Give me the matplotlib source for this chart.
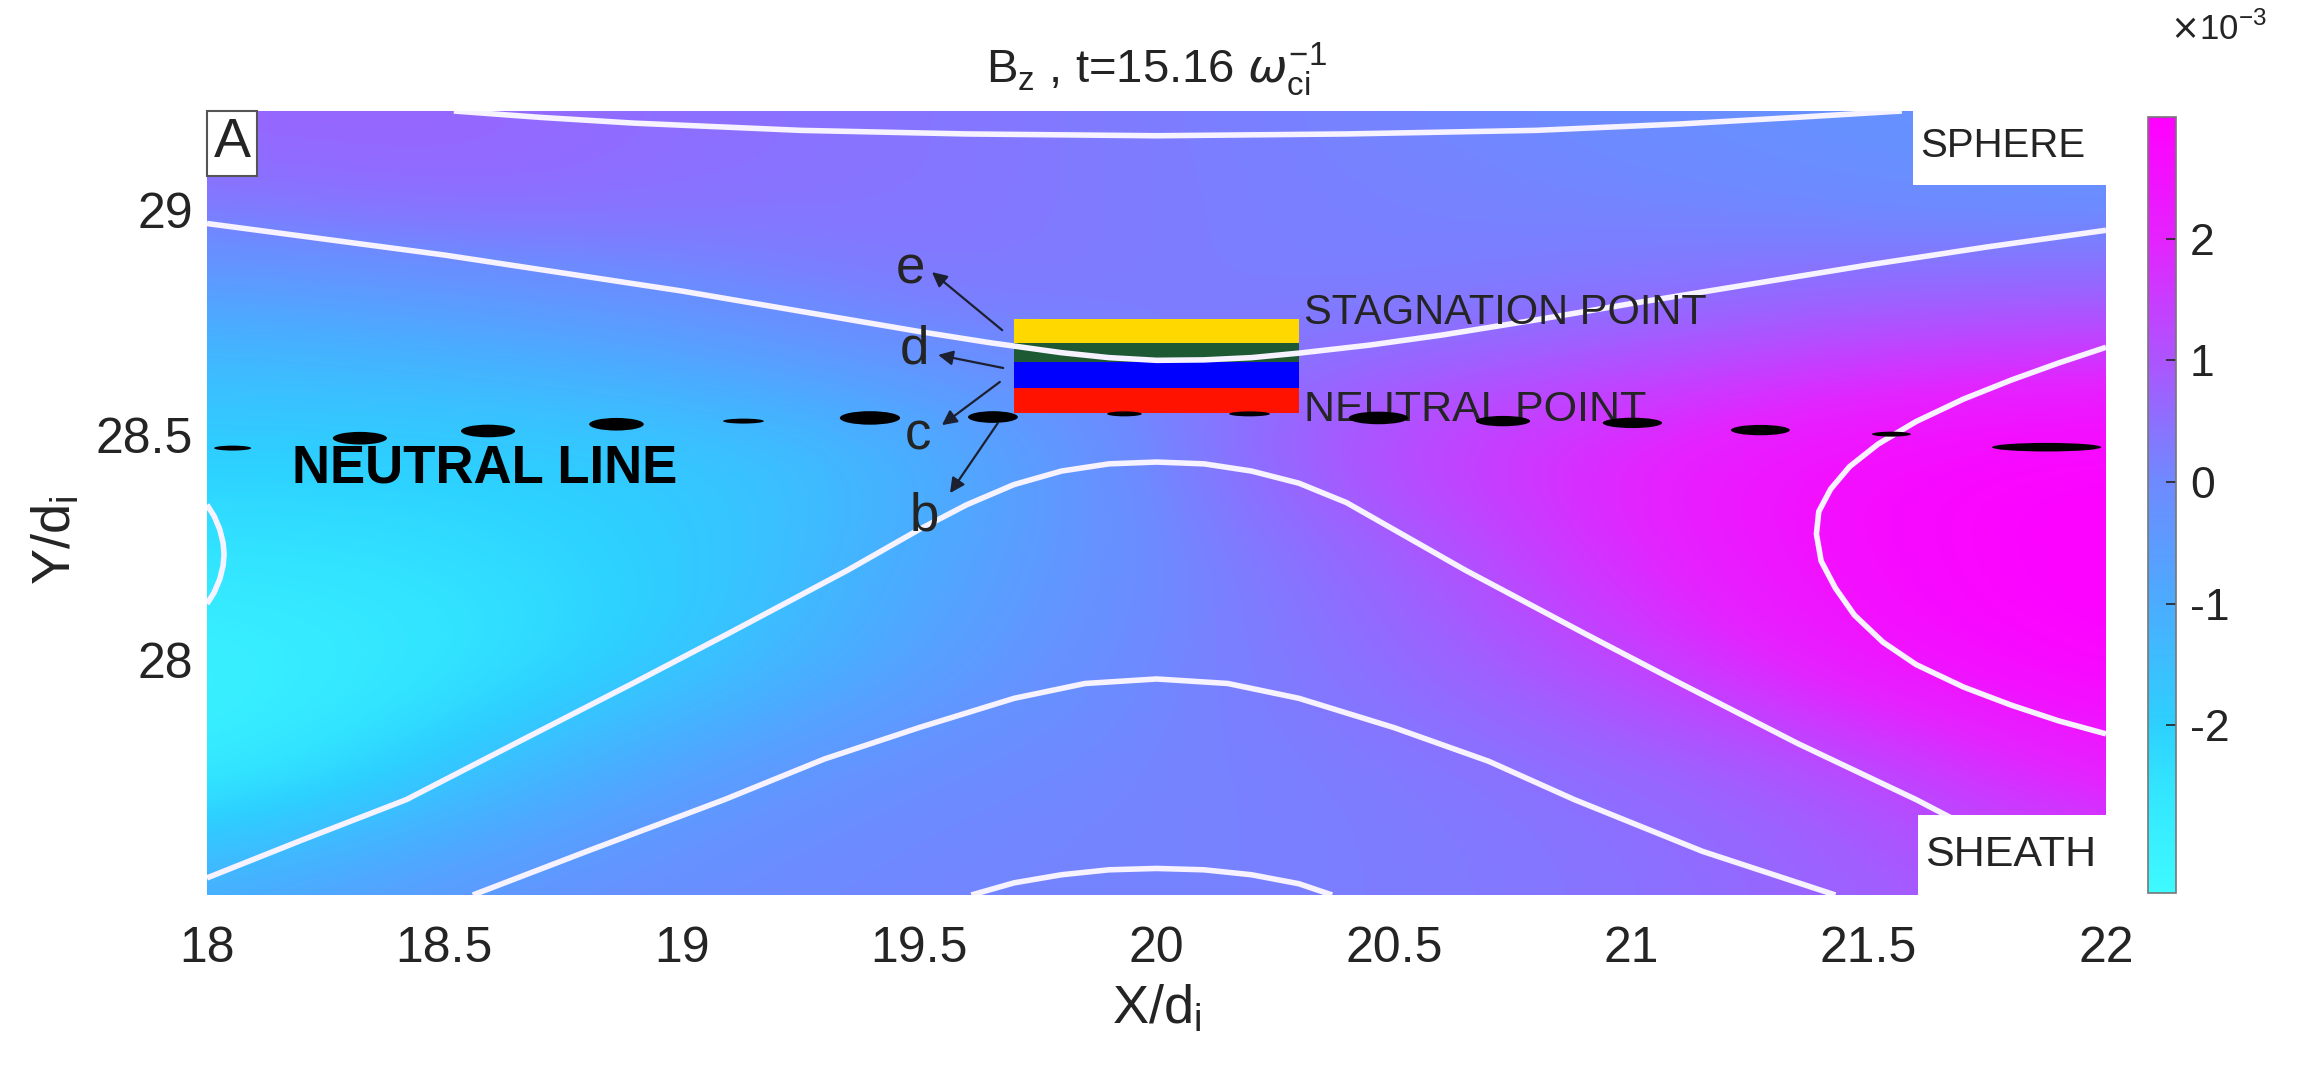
import numpy as np
import matplotlib
matplotlib.use("Agg")
import matplotlib.pyplot as plt
from matplotlib.colors import LinearSegmentedColormap, Normalize
from matplotlib.patches import Ellipse, Rectangle

plt.rcParams["font.family"] = ["Liberation Sans", "DejaVu Sans"]
plt.rcParams["axes.unicode_minus"] = False

# ---- Bz field (x1e-3) sampled on a coarse grid ----
grid_x = [18.0, 18.5, 19.0, 19.5, 20.0, 20.5, 21.0, 21.5, 22.0]
grid_y = [27.5, 27.75, 28.0, 28.25, 28.5, 28.75, 29.0, 29.25]
bz = [
    [-1.00, -0.35, -0.05, 0.10, 0.10, 0.25, 0.40, 0.75, 1.10],
    [-3.00, -1.80, -0.55, 0.00, 0.10, 0.25, 0.50, 1.00, 2.30],
    [-3.15, -2.70, -1.95, -0.70, 0.08, 0.50, 1.35, 2.60, 2.95],
    [-2.45, -2.35, -1.95, -1.00, 0.00, 0.67, 2.00, 2.75, 2.95],
    [-1.90, -1.90, -1.80, -1.30, 0.10, 1.50, 2.05, 2.70, 2.95],
    [-1.15, -0.85, -0.35, 0.33, 0.25, 0.17, 0.50, 0.90, 1.05],
    [0.40, 0.67, 0.50, 0.40, 0.25, 0.17, 0.08, -0.10, -0.20],
    [0.70, 0.67, 0.50, 0.40, 0.25, 0.08, -0.10, -0.25, -0.35],
]
VMIN, VMAX = -3.38, 3.0

# colour scale anchors: value -> rgb
cmap_vals = [-3.38, -2.5, -2.0, -1.0, 0.0, 1.0, 2.0, 3.0]
cmap_rgb = [(62, 250, 255), (50, 228, 255), (45, 208, 255), (75, 172, 255),
            (110, 138, 255), (172, 85, 255), (228, 35, 255), (255, 0, 255)]

# ---- field lines ----
top_x = [18.52, 18.70, 18.90, 19.25, 19.60, 20.00, 20.40, 20.80, 21.10, 21.35, 21.57]
top_y = [29.22, 29.206, 29.193, 29.177, 29.169, 29.165, 29.169, 29.177, 29.191, 29.206, 29.22]
upper_x = [18.0, 18.25, 18.5, 18.75, 19.0, 19.25, 19.5, 19.65, 19.8, 19.9, 20.0, 20.1,
           20.2, 20.3, 20.45, 20.6, 20.8, 21.0, 21.25, 21.5, 21.75, 22.0]
upper_y = [28.97, 28.935, 28.90, 28.86, 28.82, 28.775, 28.73, 28.705, 28.683, 28.672, 28.666, 28.667,
           28.672, 28.682, 28.70, 28.722, 28.756, 28.792, 28.835, 28.878, 28.918, 28.955]
lower_x = [18.0, 18.2, 18.42, 18.65, 18.9, 19.1, 19.35, 19.5, 19.6, 19.7, 19.8, 19.9, 20.0,
           20.1, 20.2, 20.3, 20.4, 20.5, 20.65, 20.9, 21.1, 21.35, 21.6, 21.8]
lower_y = [27.516, 27.60, 27.69, 27.815, 27.95, 28.06, 28.20, 28.29, 28.345, 28.39, 28.42, 28.436, 28.44,
           28.436, 28.42, 28.393, 28.35, 28.29, 28.20, 28.06, 27.95, 27.815, 27.69, 27.58]
inflow_x = [18.56, 18.8, 19.09, 19.3, 19.5, 19.7, 19.85, 20.0, 20.15, 20.3, 20.5, 20.7, 20.88, 21.15, 21.43]
inflow_y = [27.478, 27.575, 27.69, 27.78, 27.85, 27.915, 27.948, 27.958, 27.948, 27.915, 27.85, 27.775,
            27.69, 27.575, 27.478]
arch_x = [19.61, 19.7, 19.8, 19.9, 20.0, 20.1, 20.2, 20.3, 20.37]
arch_y = [27.478, 27.505, 27.523, 27.534, 27.537, 27.534, 27.523, 27.503, 27.478]
island_r_x = [22.0, 21.9, 21.8, 21.7, 21.6, 21.52, 21.46, 21.42, 21.395, 21.39, 21.40, 21.43,
              21.47, 21.53, 21.6, 21.7, 21.8, 21.9, 22.0]
island_r_y = [28.695, 28.66, 28.622, 28.58, 28.53, 28.48, 28.43, 28.38, 28.33, 28.28, 28.22, 28.16,
              28.10, 28.04, 27.99, 27.94, 27.90, 27.865, 27.836]
island_l_x = [18.0, 18.015, 18.027, 18.034, 18.036, 18.034, 18.027, 18.015, 18.0]
island_l_y = [28.345, 28.32, 28.29, 28.26, 28.235, 28.21, 28.18, 28.15, 28.125]

# ---- neutral line dashes ----
dash_x0 = [18.015, 18.265, 18.535, 18.805, 19.087, 19.333, 19.603, 19.896,
           20.153, 20.405, 20.673, 20.940, 21.210, 21.507, 21.760]
dash_x1 = [18.093, 18.379, 18.649, 18.920, 19.173, 19.460, 19.708, 19.969,
           20.239, 20.530, 20.787, 21.065, 21.334, 21.589, 21.990]
dash_y = [28.471, 28.493, 28.509, 28.524, 28.531, 28.538, 28.540, 28.547,
          28.547, 28.538, 28.531, 28.527, 28.511, 28.502, 28.473]
dash_thick = [0.011, 0.028, 0.028, 0.028, 0.011, 0.030, 0.026, 0.011,
              0.011, 0.028, 0.023, 0.023, 0.023, 0.011, 0.019]

# ---- stagnation box stripes (bottom, top, colour) ----
stripe_lo = [28.550, 28.605, 28.662, 28.705]
stripe_hi = [28.605, 28.662, 28.705, 28.758]
stripe_col = ["#ff1200", "#0000ff", "#1d5a33", "#ffd800"]
box_x0, box_x1 = 19.70, 20.30

# arrows from box to letters
arrow_lbl = ["e", "d", "c", "b"]
arrow_start = [(19.675, 28.733), (19.677, 28.649), (19.670, 28.618), (19.666, 28.527)]
arrow_end = [(19.527, 28.862), (19.540, 28.678), (19.548, 28.522), (19.565, 28.371)]
lbl_pos = [(19.481, 28.867), (19.491, 28.689), (19.498, 28.500), (19.512, 28.318)]

XLIM = (18.0, 22.0)
YLIM = (27.478, 29.22)
TXT = "#242424"

W, H = 2316, 1066
fig = plt.figure(figsize=(W / 100, H / 100), dpi=100)
ax = fig.add_axes([207 / W, 1 - 895 / H, (2106 - 207) / W, (895 - 111) / H])
cax = fig.add_axes([2148 / W, 1 - 893 / H, (2176 - 2148) / W, (893 - 117) / H])

span = VMAX - VMIN
cmap = LinearSegmentedColormap.from_list(
    "bz", [((v - VMIN) / span, tuple(c / 255 for c in rgb)) for v, rgb in zip(cmap_vals, cmap_rgb)])
norm = Normalize(VMIN, VMAX)

dx = grid_x[1] - grid_x[0]
dy = grid_y[1] - grid_y[0]
im = ax.imshow(np.array(bz), origin="lower", cmap=cmap, norm=norm,
               interpolation="bicubic", aspect="auto",
               extent=(grid_x[0] - dx / 2, grid_x[-1] + dx / 2,
                       grid_y[0] - dy / 2, grid_y[-1] + dy / 2))

line_kw = dict(color="#f6f2ff", lw=4, solid_capstyle="butt", solid_joinstyle="round", zorder=4)

# stripes first, field lines over them
for lo, hi, c in zip(stripe_lo, stripe_hi, stripe_col):
    ax.add_patch(Rectangle((box_x0, lo), box_x1 - box_x0, hi - lo, fc=c, ec="none", zorder=3))

for xs, ys in [(top_x, top_y), (upper_x, upper_y), (lower_x, lower_y),
               (inflow_x, inflow_y), (arch_x, arch_y),
               (island_r_x, island_r_y), (island_l_x, island_l_y)]:
    ax.plot(xs, ys, **line_kw)

ax.text(20.31, 28.771, "STAGNATION POINT", fontsize=30, color=TXT, va="center", ha="left", zorder=5)
ax.text(20.31, 28.556, "NEUTRAL POINT", fontsize=31, color=TXT, va="center", ha="left", zorder=5)

for x0, x1, yc, th in zip(dash_x0, dash_x1, dash_y, dash_thick):
    ax.add_patch(Ellipse(((x0 + x1) / 2, yc), x1 - x0, th, fc="black", ec="none", zorder=6))

ax.text(18.18, 28.425, "NEUTRAL LINE", fontsize=38, fontweight="bold",
        color="black", va="center", ha="left", zorder=6)

for lab, s, e, p in zip(arrow_lbl, arrow_start, arrow_end, lbl_pos):
    ax.annotate("", xy=e, xytext=s,
                arrowprops=dict(arrowstyle="-|>", color="#1c2030", lw=1.6,
                                mutation_scale=22, shrinkA=0, shrinkB=0), zorder=6)
    ax.text(p[0], p[1], lab, fontsize=38, color=TXT, ha="center", va="center", zorder=6)

# corner labels
ax.add_patch(Rectangle((21.594, 29.056), 22.0 - 21.594, 0.2, fc="white", ec="none", zorder=7))
ax.text(21.783, 29.142, "SPHERE", fontsize=29, color=TXT, ha="center", va="center", zorder=8)
ax.add_patch(Rectangle((21.604, 27.40), 22.0 - 21.604, 27.656 - 27.40, fc="white", ec="none", zorder=7))
ax.text(21.80, 27.567, "SHEATH", fontsize=31, color=TXT, ha="center", va="center", zorder=8)
ax.text(0.0035, 0.992, "A", transform=ax.transAxes, fontsize=40, color=TXT, ha="left", va="top",
        zorder=8, bbox=dict(boxstyle="square,pad=0.12", fc="white", ec="#555555", lw=1.5))

ax.set_xlim(*XLIM)
ax.set_ylim(*YLIM)
ax.set_xticks([18, 18.5, 19, 19.5, 20, 20.5, 21, 21.5, 22])
ax.set_xticklabels(["18", "18.5", "19", "19.5", "20", "20.5", "21", "21.5", "22"])
ax.set_yticks([28, 28.5, 29])
ax.set_yticklabels(["28", "28.5", "29"])
ax.tick_params(length=0, labelsize=36, colors=TXT)
ax.tick_params(axis="x", pad=22)
ax.tick_params(axis="y", pad=10)
for sp in ax.spines.values():
    sp.set_visible(False)

ax.set_title(r"B$_\mathregular{z}$ , t=15.16 $\omega_\mathregular{ci}^{\mathregular{-1}}$",
             fontsize=34, color=TXT, pad=20)
ax.set_xlabel(r"X/d$_\mathregular{i}$", fontsize=39, color=TXT, labelpad=8)
ax.set_ylabel(r"Y/d$_\mathregular{i}$", fontsize=39, color=TXT)
ax.yaxis.set_label_coords(-0.066, 0.452)

cb = fig.colorbar(im, cax=cax, ticks=[-2, -1, 0, 1, 2])
cb.ax.set_yticklabels(["-2", "-1", "0", "1", "2"])
cb.ax.tick_params(direction="in", length=7, width=1.2, labelsize=32, colors=TXT, pad=10)
cb.outline.set_edgecolor("#777777")
cb.outline.set_linewidth(1.2)
fig.text(2170 / W, 1 - 40 / H, r"$\times$10$^{\mathregular{-3}}$", fontsize=25, color=TXT,
         ha="left", va="baseline")

fig.savefig("out.png", dpi=100)
